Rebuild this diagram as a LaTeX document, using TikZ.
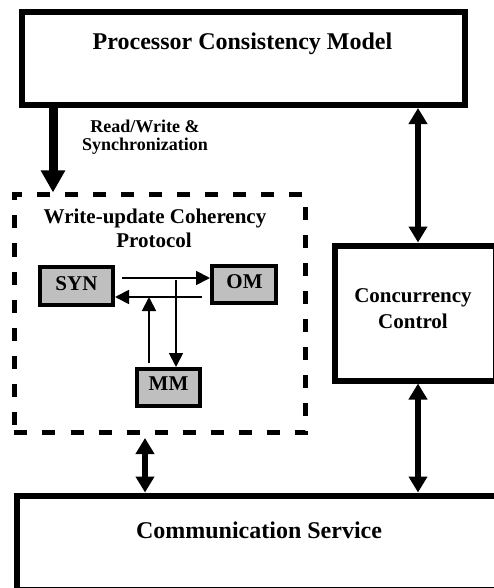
\documentclass[tikz,border=0pt]{standalone}
\usepackage{fontspec}
\setmainfont{Liberation Serif}
\usetikzlibrary{arrows.meta}
\begin{document}
\begin{tikzpicture}[x=1bp,y=-1bp,
  box/.style={draw, line width=6bp, fill=white, inner sep=0pt, outer sep=3bp},
  dashbox/.style={draw, line width=5bp, dash pattern=on 13bp off 15bp, inner sep=0pt, outer sep=2.5bp},
  unit/.style={draw, line width=4bp, fill=black!25, inner sep=0pt, outer sep=2bp},
  big/.style={font=\bfseries\fontsize{24bp}{28bp}\selectfont, anchor=base, inner sep=0pt},
  mid/.style={font=\bfseries\fontsize{21bp}{25bp}\selectfont, anchor=base, inner sep=0pt},
  small/.style={font=\bfseries\fontsize{18bp}{20bp}\selectfont, anchor=base, inner sep=0pt},
  heavy/.style={line width=6bp, -{Triangle[length=16bp,width=18bp]}},
  heavyboth/.style={line width=6bp, {Triangle[length=16bp,width=18bp]}-{Triangle[length=16bp,width=18bp]}},
  firstarrow/.style={line width=9bp, -{Triangle[length=22bp,width=23bp]}},
  thin/.style={line width=1.8bp, -{Triangle[length=14bp,width=14bp]}}]
\useasboundingbox (0,0) rectangle (494,588);

% main blocks
\node[box, minimum width=443bp, minimum height=93bp] (pcm) at (243.5,58.5) {};
\node[box, minimum width=161bp, minimum height=135bp] (cc) at (415,313) {};
\node[box, minimum width=492.5bp, minimum height=94bp] (cs) at (263.75,542.5) {};
\node[dashbox, minimum width=291bp, minimum height=237.5bp] (wup) at (160,313.75) {};

% protocol units
\node[unit, minimum width=73bp, minimum height=38bp] (syn) at (76.5,286) {};
\node[unit, minimum width=64bp, minimum height=37bp] (om) at (244,284.5) {};
\node[unit, minimum width=63bp, minimum height=37bp] (mm) at (168.5,387.5) {};

% texts
\node[big] (pcmt) at (242.5,50) {Processor Consistency Model};
\node[small] (rw1) at (145,133) {Read/Write \&};
\node[small] (rw2) at (145,151) {Synchronization};
\node[mid] (wup1) at (155,223) {Write-update Coherency};
\node[mid] (wup2) at (154,247) {Protocol};
\node[mid] (synt) at (76.5,290) {SYN};
\node[mid] (omt) at (244.5,288) {OM};
\node[mid] (mmt) at (168.5,390) {MM};
\node[mid] (cc1) at (413,302) {Concurrency};
\node[mid] (cc2) at (413,328) {Control};
\node[big] (cst) at (259,538) {Communication Service};

% connector columns and rows
\coordinate (c1) at (53,0);
\coordinate (c2) at (418,0);
\coordinate (c3) at (145,0);
\coordinate (c4) at (149,0);
\coordinate (c5) at (176,0);
\coordinate (r1) at (0,278);
\coordinate (r2) at (0,297);

% connectors between blocks
\draw[firstarrow] (pcm.south -| c1) -- (wup.north -| c1);
\draw[heavyboth] (pcm.south -| c2) -- (cc.north -| c2);
\draw[heavyboth] (cc.south -| c2) -- (cs.north -| c2);
\draw[heavyboth, shorten <=3bp] (wup.south -| c3) -- (cs.north -| c3);

% connectors inside the protocol
\draw[thin, shorten <=7bp] (syn.east |- r1) -- (om.west |- r1);
\draw[thin, shorten <=8bp] (om.west |- r2) -- (syn.east |- r2);
\draw[thin, shorten <=4bp] (mm.north -| c4) -- (c4 |- r2);
\draw[thin, shorten <=2bp] (c5 |- r1) -- (mm.north -| c5);
\end{tikzpicture}
\end{document}
